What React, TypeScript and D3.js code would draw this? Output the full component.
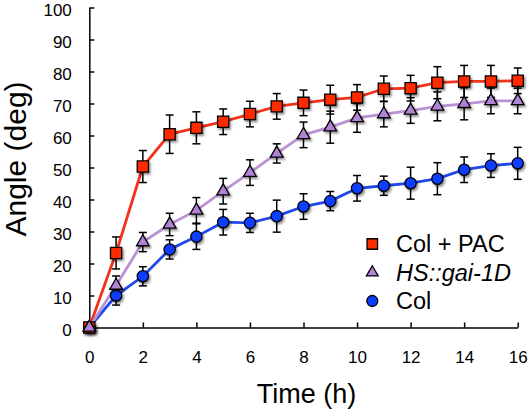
import React, { useEffect, useRef } from "react";
import * as d3 from "d3";

const hours = [0, 1, 2, 3, 4, 5, 6, 7, 8, 9, 10, 11, 12, 13, 14, 15, 16];
const colPac = [0, 23.3, 50.3, 60.4, 62.4, 64.3, 66.7, 69.1, 70.2, 71.2, 71.9, 74.6, 74.8, 76.5, 76.9, 76.9, 77.1];
const colPacErr = [0, 5, 5, 6, 5, 4, 4, 4, 4, 4.5, 4, 4, 4, 5, 5, 5, 4];
const hsGai = [0, 13.1, 26.7, 32.2, 36.6, 42.6, 48.4, 54.4, 60.2, 62.6, 65.5, 66.7, 67.8, 69.1, 69.9, 70.8, 70.8];
const hsGaiErr = [0, 3, 3, 3.5, 4, 4, 4, 3, 4, 5, 4.5, 4, 4, 4.5, 5, 4, 4];
const col = [0, 10, 16, 24.4, 28.4, 32.9, 32.7, 34.8, 37.8, 39.5, 43.5, 44.3, 45.1, 46.5, 49.3, 50.6, 51.3];
const colErr = [0, 3, 3, 3, 4, 4, 3, 5, 4, 3, 4, 3, 5, 5, 4, 3.7, 5];
const yTicks = [0, 10, 20, 30, 40, 50, 60, 70, 80, 90, 100];
const xTicks = [0, 2, 4, 6, 8, 10, 12, 14, 16];
const seriesNames = ["Col + PAC", "HS::gai-1D", "Col"];

const FONT = "'Liberation Sans', Arial, Helvetica, sans-serif";

export default function App() {
  const ref = useRef<SVGSVGElement>(null);

  useEffect(() => {
    const svg = d3.select(ref.current);
    svg.selectAll("*").remove();

    const x = d3.scaleLinear().domain([0, 16]).range([89.3, 517.7]);
    const y = d3.scaleLinear().domain([0, 100]).range([327.5, 7.5]);

    const defs = svg.append("defs");
    const f = defs.append("filter").attr("id", "shadow").attr("x", "-50%").attr("y", "-50%").attr("width", "200%").attr("height", "200%");
    f.append("feDropShadow").attr("dx", 1.5).attr("dy", 2).attr("stdDeviation", 1.3).attr("flood-color", "#000").attr("flood-opacity", 0.45);

    // axes
    const yAxis = d3.axisLeft(y).tickValues(yTicks).tickSizeInner(-5).tickSizeOuter(0).tickPadding(17.5);
    const gy = svg.append("g").attr("transform", `translate(${x(0)},0)`).call(yAxis);
    const xAxis = d3.axisBottom(x).tickValues(xTicks).tickSizeInner(-5).tickSizeOuter(0).tickPadding(23);
    const gx = svg.append("g").attr("transform", `translate(0,${y(0)})`).call(xAxis);
    [gx, gy].forEach((g) => {
      g.select(".domain").attr("stroke", "#000").attr("stroke-width", 1.5);
      g.selectAll(".tick line").attr("stroke", "#000").attr("stroke-width", 1.5);
      g.selectAll(".tick text").attr("font-family", FONT).attr("font-size", 17).attr("fill", "#000");
    });
    gy.selectAll(".tick text").attr("dy", "0.45em");

    const series = [
      { vals: col, err: colErr, line: "#1f48ea", fill: "#0a3cff", sym: d3.symbolCircle, size: 100 },
      { vals: colPac, err: colPacErr, line: "#f2321a", fill: "#ff2a00", sym: d3.symbolSquare, size: 125 },
      { vals: hsGai, err: hsGaiErr, line: "#b892d4", fill: "#b183d6", sym: d3.symbolTriangle, size: 70 },
    ];

    const line = d3.line<number>().x((_, i) => x(hours[i])).y((d) => y(d));

    // error bars
    series.forEach((s) => {
      const g = svg.append("g").attr("stroke", "#000").attr("stroke-width", 1.5);
      s.vals.forEach((v, i) => {
        if (s.err[i] <= 0) return;
        const cx = x(hours[i]);
        const y1 = y(v + s.err[i]);
        const y2 = y(v - s.err[i]);
        g.append("line").attr("x1", cx).attr("x2", cx).attr("y1", y1).attr("y2", y2);
        g.append("line").attr("x1", cx - 4).attr("x2", cx + 4).attr("y1", y1).attr("y2", y1);
        g.append("line").attr("x1", cx - 4).attr("x2", cx + 4).attr("y1", y2).attr("y2", y2);
      });
    });

    // lines
    series.forEach((s) => {
      svg.append("path").attr("d", line(s.vals)).attr("fill", "none").attr("stroke", s.line).attr("stroke-width", 2.8);
    });

    // markers
    series.forEach((s) => {
      const g = svg.append("g").attr("filter", "url(#shadow)");
      s.vals.forEach((v, i) => {
        g.append("path")
          .attr("d", d3.symbol(s.sym, s.size)())
          .attr("transform", `translate(${x(hours[i])},${y(v)})`)
          .attr("fill", s.fill)
          .attr("stroke", "#000")
          .attr("stroke-width", 1.3);
      });
    });

    // legend
    const legendItems = [
      { name: seriesNames[0], fill: "#ff2a00", sym: d3.symbolSquare, size: 110, italic: false },
      { name: seriesNames[1], fill: "#b183d6", sym: d3.symbolTriangle, size: 60, italic: true },
      { name: seriesNames[2], fill: "#0a3cff", sym: d3.symbolCircle, size: 95, italic: false },
    ];
    legendItems.forEach((it, i) => {
      const cy = 244 + i * 28.5;
      svg.append("path").attr("d", d3.symbol(it.sym, it.size)()).attr("transform", `translate(372.3,${cy})`)
        .attr("fill", it.fill).attr("stroke", "#000").attr("stroke-width", 1.3);
      svg.append("text").attr("x", 396).attr("y", cy + 8).attr("font-family", FONT).attr("font-size", 23.5)
        .attr("font-style", it.italic ? "italic" : "normal").attr("fill", "#000").text(it.name);
    });

    // titles
    svg.append("text").attr("x", (x(0) + x(16)) / 2 + 3).attr("y", 403).attr("text-anchor", "middle")
      .attr("font-family", FONT).attr("font-size", 27).attr("fill", "#000").text("Time (h)");
    svg.append("text").attr("transform", `translate(26,159) rotate(-90)`).attr("text-anchor", "middle")
      .attr("font-family", FONT).attr("font-size", 30).attr("fill", "#000").text("Angle (deg)");
  }, []);

  return (
    <svg ref={ref} width={531} height={413} style={{ position: "absolute", left: 0, top: 0, background: "#fff" }} />
  );
}
